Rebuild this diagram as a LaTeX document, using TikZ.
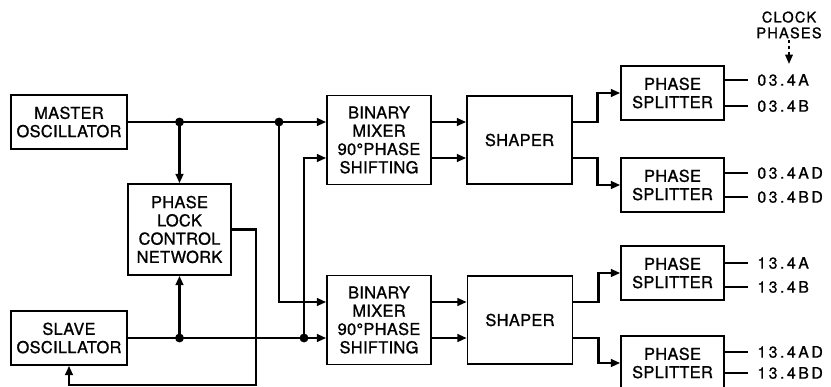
\documentclass[tikz,border=0pt]{standalone}
\usepackage{fontspec}
\setmainfont{TeX Gyre Heros}[LetterSpace=2, FakeBold=1]
\newfontfamily\lblfont{TeX Gyre Heros}[LetterSpace=16, FakeBold=1]
\newfontfamily\clkfont{TeX Gyre Heros}[LetterSpace=8, FakeBold=1]
\usetikzlibrary{arrows.meta,calc}

\begin{document}
\begin{tikzpicture}[
    x=0.03cm, y=-0.03cm,
    font=\fontsize{14pt}{15.6pt}\selectfont,
    block/.style={draw, line width=1.3pt, align=center, inner sep=1pt},
    osc/.style={block, minimum width=3.48cm, minimum height=1.62cm},
    control/.style={block, minimum width=3.09cm, minimum height=2.73cm},
    mixer/.style={block, minimum width=3.12cm, minimum height=2.67cm},
    shaper/.style={block, minimum width=3.15cm, minimum height=2.64cm},
    splitter/.style={block, minimum width=3.09cm, minimum height=1.62cm},
    wire/.style={line width=2.5pt},
    feed/.style={wire, -{Triangle[length=8pt, width=6.5pt]}},
    lbl/.style={anchor=west, inner sep=0pt, xshift=7pt,
      font=\lblfont\fontsize{13.5pt}{14pt}\selectfont}
  ]
  \useasboundingbox (0,0) rectangle (831,386);
  \clip (0,0) rectangle (831,386);

  \node[osc] (master) at (69,122) {MASTER\\OSCILLATOR};
  \node[osc] (slave) at (69,338) {SLAVE\\OSCILLATOR};
  \node[control] (plc) at (179.5,229.5) {PHASE\\LOCK\\CONTROL\\NETWORK};

  \node[mixer] (mix1) at (379,140) {BINARY\\MIXER\\90°PHASE\\SHIFTING};
  \node[mixer] (mix2) at (379,320) {BINARY\\MIXER\\90°PHASE\\SHIFTING};
  \node[shaper] (shp1) at (519.5,140) {SHAPER};
  \node[shaper] (shp2) at (520,320) {SHAPER};

  \node[splitter] (ps1) at (672.5,93) {PHASE\\SPLITTER};
  \node[splitter] (ps2) at (672.5,185) {PHASE\\SPLITTER};
  \node[splitter] (ps3) at (672.5,273) {PHASE\\SPLITTER};
  \node[splitter] (ps4) at (672.5,363) {PHASE\\SPLITTER};

  \coordinate (jm1) at (master.east -| plc.north);
  \coordinate (jm2) at (279,122);
  \coordinate (js1) at (slave.east -| plc.south);
  \coordinate (js2) at (304,338);
  \coordinate (fb) at (256,385);

  \draw[feed] (master.east) -- (mix1.west |- master.east);
  \draw[feed] (slave.east) -- (mix2.west |- slave.east);
  \draw[feed] (jm1) -- (plc.north);
  \draw[feed] (js1) -- (plc.south);
  \draw[feed] (jm2) |- ([yshift=0.54cm]mix2.west);
  \draw[feed] (js2) |- ([yshift=-0.54cm]mix1.west);
  \draw[feed] (plc.east) -| (fb) -| (slave.south);
  \foreach \j in {jm1,jm2,js1,js2}
    \fill (\j) circle[radius=3.8pt];

  \foreach \m/\s in {mix1/shp1,mix2/shp2} {
    \draw[feed] ([yshift=0.54cm]\m.east) -- ([yshift=0.54cm]\s.west);
    \draw[feed] ([yshift=-0.54cm]\m.east) -- ([yshift=-0.54cm]\s.west);
  }
  \draw[feed] ([yshift=0.54cm]shp1.east) -- ++(25,0) |- (ps1.west);
  \draw[feed] ([yshift=-0.54cm]shp1.east) -- ++(25,0) |- (ps2.west);
  \draw[feed] ([yshift=0.54cm]shp2.east) -- ++(25,0) |- (ps3.west);
  \draw[feed] ([yshift=-0.54cm]shp2.east) -- ++(25,0) |- (ps4.west);

  \draw[wire] ([yshift=0.39cm]ps1.east) -- ++(23,0) node[lbl] (o1a) {03.4A};
  \draw[wire] ([yshift=-0.39cm]ps1.east) -- ++(23,0) node[lbl] (o1b) {03.4B};
  \draw[wire] ([yshift=0.36cm]ps2.east) -- ++(23,0) node[lbl] (o2a) {03.4AD};
  \draw[wire] ([yshift=-0.36cm]ps2.east) -- ++(23,0) node[lbl] (o2b) {03.4BD};
  \draw[wire] ([yshift=0.3cm]ps3.east) -- ++(23,0) node[lbl] (o3a) {13.4A};
  \draw[wire] ([yshift=-0.42cm]ps3.east) -- ++(23,0) node[lbl] (o3b) {13.4B};
  \draw[wire] ([yshift=0.33cm]ps4.east) -- ++(23,0) node[lbl] (o4a) {13.4AD};
  \draw[wire] ([yshift=-0.3cm]ps4.east) -- ++(23,0) node[lbl] (o4b) {13.4BD};

  \node[align=center, inner sep=1pt,
    font=\clkfont\fontsize{12.5pt}{13.5pt}\selectfont]
    (clk) at (789,25) {CLOCK\\PHASES};
  \draw[line width=1.4pt, dash pattern=on 3pt off 2pt,
    -{Triangle[length=8pt, width=6.5pt]}] (clk.south) -- ++(0,24);
\end{tikzpicture}
\end{document}
